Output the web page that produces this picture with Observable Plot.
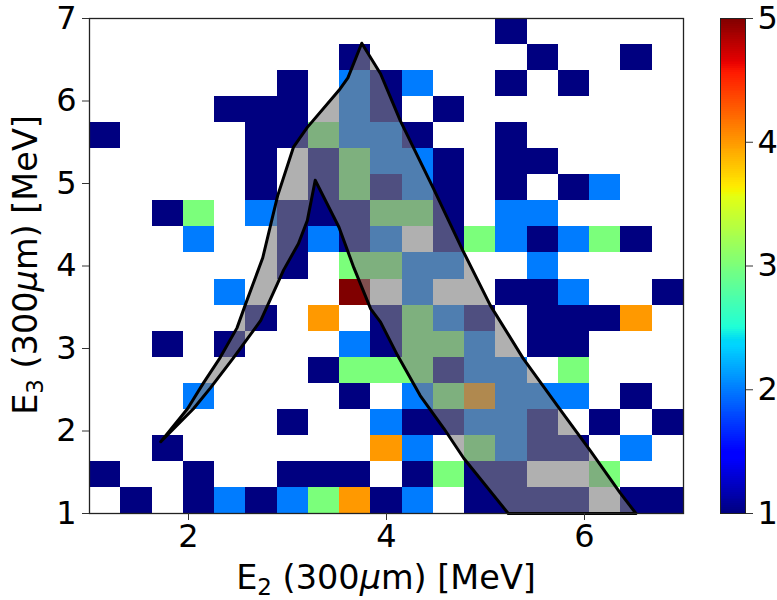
<!DOCTYPE html>
<html>
<head>
<meta charset="utf-8">
<script src="https://cdn.jsdelivr.net/npm/d3@7"></script>
<script src="https://cdn.jsdelivr.net/npm/@observablehq/plot@0.6"></script>
<style>
html,body{margin:0;padding:0;background:#fff}
#chart{position:relative;width:777px;height:600px;overflow:hidden}
#chart svg{position:absolute;left:0;top:0;background:transparent}
</style>
</head>
<body>
<div id="chart"></div>
<script>
// Counts per bin, top row (E3 high) first; 0 = empty bin
const counts = [
 [0,0,0,0,0,0,0,0,0,0,0,0,0,1,0,0,0,0,0],
 [0,0,0,0,0,0,0,0,1,0,0,0,0,0,1,0,0,1,0],
 [0,0,0,0,0,0,1,0,2,1,2,0,0,1,0,1,0,0,0],
 [0,0,0,0,1,1,1,0,2,1,0,1,0,0,0,0,0,0,0],
 [1,0,0,0,0,1,1,3,2,2,1,0,0,1,0,0,0,0,0],
 [0,0,0,0,0,1,0,1,3,2,2,1,0,1,1,0,0,0,0],
 [0,0,0,0,0,1,0,1,3,1,2,1,0,1,0,1,2,0,0],
 [0,0,1,3,0,2,1,1,1,3,3,1,0,2,2,0,0,0,0],
 [0,0,0,2,0,0,1,2,1,2,0,1,3,2,1,2,3,1,0],
 [0,0,0,0,0,0,1,0,3,3,2,2,0,0,2,0,0,0,0],
 [0,0,0,0,2,0,0,0,5,0,2,0,0,1,1,2,0,0,1],
 [0,0,0,0,0,1,0,4,0,1,3,2,1,0,1,1,1,4,0],
 [0,0,1,0,1,0,0,0,2,1,3,3,2,0,1,1,0,0,0],
 [0,0,0,0,0,0,0,1,3,3,3,1,2,2,0,3,0,0,0],
 [0,0,0,2,0,0,0,0,1,0,2,3,4,2,2,2,0,1,0],
 [0,0,0,0,0,0,1,0,0,2,1,1,2,2,1,0,1,0,1],
 [0,0,1,0,0,0,0,0,0,4,2,0,3,2,1,1,0,2,0],
 [1,0,0,1,0,0,1,1,1,0,1,3,1,1,0,0,3,0,0],
 [0,1,0,1,2,1,2,3,4,1,2,0,1,1,1,1,0,1,1]
];
// Outline of the grey band (E2, E3 in MeV)
const bandE2 = [1.72,1.99,2.15,2.32,2.49,2.58,2.75,2.90,3.06,3.20,3.52,3.61,3.75,3.94,4.14,4.47,4.77,5.05,5.38,5.76,6.06,6.36,6.52,5.23,4.78,4.58,4.34,4.11,3.94,3.84,3.67,3.52,3.28,3.20,3.11,2.96,2.90,2.73,2.45,2.22,2.05,1.72];
const bandE3 = [1.87,2.27,2.58,2.89,3.25,3.55,4.10,4.85,5.44,5.68,6.13,6.28,6.70,6.33,5.76,4.95,4.19,3.52,2.88,2.25,1.76,1.25,1.00,1.00,1.67,2.03,2.43,2.92,3.32,3.48,3.98,4.47,5.04,4.55,4.27,3.95,3.79,3.34,2.88,2.52,2.27,1.87];
const e2Ticks = [2,4,6];
const e3Ticks = [1,2,3,4,5,6,7];
const barTicks = [1,2,3,4,5];
const axisMin = 1, axisMax = 7;
const jetStops = [0,.11,.125,.34,.35,.375,.64,.65,.66,.89,.91,1];
const jetColors = ["#000080","#0000ff","#0000ff","#00d5ff","#00d9f6","#1fffd7","#e3ff13","#f2f700","#ffea00","#ff1a00","#e80000","#800000"];

const binSize = (axisMax-axisMin)/counts.length;
const cells = counts.flatMap((row,r)=>row.map((v,c)=>({
  x1: axisMin+c*binSize, x2: axisMin+(c+1)*binSize,
  y2: axisMax-r*binSize, y1: axisMax-(r+1)*binSize, v
}))).filter(d=>d.v>0);
const band = bandE2.map((x,i)=>({x,y:bandE3[i]}));
const rampSteps = 256;
const ramp = d3.range(rampSteps).map(i=>({y1:1+4*i/rampSteps,y2:1+4*(i+1)/rampSteps,v:1+4*(i+.5)/rampSteps}));

const FONT = "'DejaVu Sans', sans-serif";
const TICK_SIZE = 32;
const color = {type:"linear", domain:jetStops.map(t=>1+4*t), range:jetColors, interpolate:"rgb"};

const main = Plot.plot({
  width:777, height:600, marginLeft:89, marginRight:94, marginTop:18, marginBottom:87,
  style:{fontFamily:FONT, fontSize:TICK_SIZE+"px", color:"#000", background:"transparent"},
  x:{domain:[axisMin,axisMax], label:null},
  y:{domain:[axisMin,axisMax], label:null},
  color,
  marks:[
    Plot.rect(cells,{x1:"x1",x2:"x2",y1:"y1",y2:"y2",fill:"v",inset:0,shapeRendering:"crispEdges"}),
    Plot.line(band,{x:"x",y:"y",stroke:"none",fill:"#808080",fillOpacity:0.62}),
    Plot.line(band,{x:"x",y:"y",stroke:"#000",strokeWidth:3,strokeLinejoin:"round"}),
    Plot.frame({stroke:"#222",strokeWidth:1.3}),
    Plot.axisX({ticks:e2Ticks,tickSize:7,tickPadding:4,tickFormat:d=>d,stroke:"#333",fontSize:TICK_SIZE,label:null}),
    Plot.axisY({ticks:e3Ticks,tickSize:7,tickPadding:6,tickFormat:d=>d,stroke:"#333",fontSize:TICK_SIZE,label:null})
  ]
});

const bar = Plot.plot({
  width:777, height:600, marginLeft:720, marginRight:32, marginTop:18, marginBottom:87,
  style:{fontFamily:FONT, fontSize:TICK_SIZE+"px", color:"#000", background:"transparent"},
  x:{domain:[0,1], axis:null},
  y:{domain:[1,5], label:null},
  color,
  marks:[
    Plot.rect(ramp,{x1:0,x2:1,y1:"y1",y2:"y2",fill:"v",inset:0,shapeRendering:"crispEdges"}),
    Plot.frame({stroke:"#222",strokeWidth:1}),
    Plot.axisY({anchor:"right",ticks:barTicks,tickSize:7,tickPadding:5,tickFormat:d=>d,stroke:"#333",fontSize:TICK_SIZE,label:null})
  ]
});

const box = document.getElementById("chart");
box.append(main, bar);

// Axis titles with subscripts and italic mu
function addLabel(svg, sub, transform){
  const t = d3.select(svg).append("text")
    .attr("transform",transform).attr("text-anchor","middle")
    .style("font-family",FONT).style("font-size","33.5px").attr("fill","#000");
  t.append("tspan").text("E");
  t.append("tspan").attr("dy",6).style("font-size","23px").text(sub);
  t.append("tspan").attr("dy",-6).text(" (300");
  t.append("tspan").style("font-style","italic").text("μ");
  t.append("tspan").text("m) [MeV]");
}
addLabel(main,"2","translate(386,589)");
addLabel(main,"3","translate(37,265) rotate(-90)");
</script>
</body>
</html>
